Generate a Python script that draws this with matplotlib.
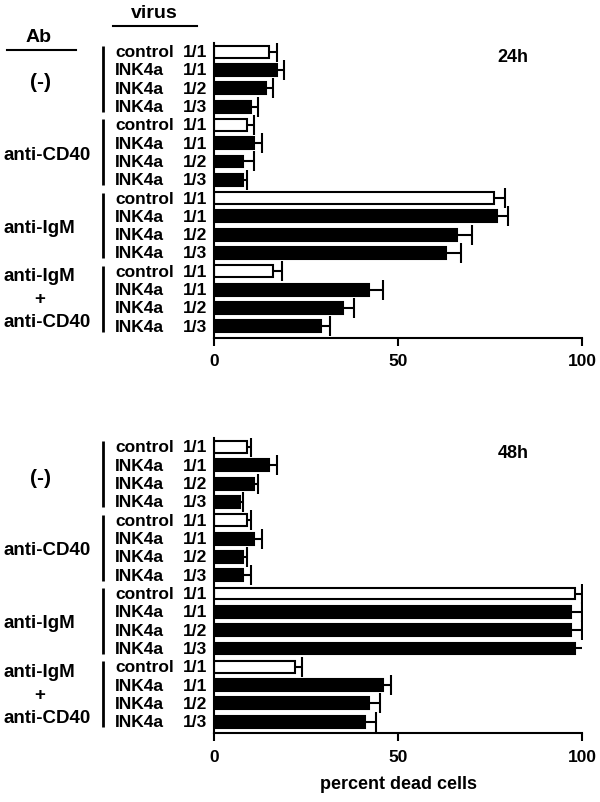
import matplotlib
matplotlib.use('Agg')
import matplotlib.pyplot as plt
import matplotlib.transforms as mtrans
import numpy as np

plt.rcParams['font.family'] = ['Liberation Sans', 'DejaVu Sans']
plt.rcParams['font.weight'] = 'bold'
plt.rcParams['axes.labelweight'] = 'bold'

# row labels (same for both panels)
virus = ['control', 'INK4a', 'INK4a', 'INK4a'] * 4
dilution = ['1/1', '1/1', '1/2', '1/3'] * 4
is_control = [v == 'control' for v in virus]
groups = ['(-)', 'anti-CD40', 'anti-IgM', 'anti-IgM\n+\nanti-CD40']

# percent dead cells, 24h
mean_24 = [15, 17, 14, 10, 9, 11, 8, 8, 76, 77, 66, 63, 16, 42, 35, 29]
err_24 = [2, 2, 2, 2, 2, 2, 3, 1, 3, 3, 4, 4, 2.4, 4, 3, 2.5]
# percent dead cells, 48h
mean_48 = [9, 15, 11, 7, 9, 11, 8, 8, 98, 97, 97, 98, 22, 46, 42, 41]
err_48 = [1, 2, 1, 1, 1, 2, 1, 2, 2, 3, 3, 3, 2, 2, 3, 3]

W, H = 600, 803
fig = plt.figure(figsize=(W / 100, H / 100), dpi=100)

panels = [
    ('24h', mean_24, err_24, (43.5, 338.7)),
    ('48h', mean_48, err_48, (438.8, 734.3)),
]

for k, (title, mean, err, (ytop, ybot)) in enumerate(panels):
    ax = fig.add_axes([214 / W, 1 - ybot / H, 368 / W, (ybot - ytop) / H])
    y = np.arange(len(mean))
    colors = ['white' if c else 'black' for c in is_control]
    ax.barh(y, mean, height=0.65, color=colors, edgecolor='black', linewidth=1.5, zorder=2)
    eb = ax.errorbar(mean, y, xerr=[np.zeros(len(err)), err], fmt='none', ecolor='black',
                     elinewidth=1.5, capsize=7, capthick=1.5, zorder=1)
    # only the upper (right) cap is drawn
    eb[1][0].set_visible(False)
    ax.set_xlim(0, 100)
    ax.set_ylim(15.63, -0.5)
    ax.set_yticks([])
    ax.set_xticks([0, 50, 100])
    ax.tick_params(axis='x', length=6, width=1.5, labelsize=12.5, pad=5)
    for s in ['top', 'right']:
        ax.spines[s].set_visible(False)
    for s in ['left', 'bottom']:
        ax.spines[s].set_linewidth(1.5)
    ax.text(513.3 / W, 1 - (ytop + 14.5) / H, title, transform=fig.transFigure, fontsize=13,
            ha='center', va='center')
    if k == 1:
        ax.set_xlabel('percent dead cells', fontsize=13, labelpad=8)

    tr = mtrans.blended_transform_factory(fig.transFigure, ax.transData)
    for i in range(len(virus)):
        ax.text(115 / W, i, virus[i], transform=tr, ha='left', va='center', fontsize=12.5, clip_on=False)
        ax.text(207.5 / W, i, dilution[i], transform=tr, ha='right', va='center', fontsize=12.5, clip_on=False)
    for g, name in enumerate(groups):
        ax.plot([102.7 / W] * 2, [4 * g - 0.3, 4 * g + 3.3], transform=tr, color='black',
                lw=2, clip_on=False, solid_capstyle='butt')
        yc = 4 * g + 1.5
        if name == '(-)':
            ax.text(40.8 / W, yc + 0.15, name, transform=tr, ha='center', va='center', fontsize=15)
        elif '\n' in name:
            parts = name.split('\n')
            ax.text(3.5 / W, yc - 1.25, parts[0], transform=tr, ha='left', va='center', fontsize=13.5)
            ax.text(40 / W, yc, parts[1], transform=tr, ha='center', va='center', fontsize=13.5)
            ax.text(3.5 / W, yc + 1.25, parts[2], transform=tr, ha='left', va='center', fontsize=13.5)
        else:
            ax.text(3.5 / W, yc + 0.1, name, transform=tr, ha='left', va='center', fontsize=13.5)

# column headers
fig.text(38.3 / W, 1 - 37.5 / H, 'Ab', ha='center', va='center', fontsize=14)
fig.add_artist(plt.Line2D([6.7 / W, 76 / W], [1 - 51 / H] * 2, color='black', lw=1.5))
fig.text(154.3 / W, 1 - 13 / H, 'virus', ha='center', va='center', fontsize=14)
fig.add_artist(plt.Line2D([113.3 / W, 197.3 / W], [1 - 27.3 / H] * 2, color='black', lw=1.5))

fig.savefig('out.png', dpi=100)
